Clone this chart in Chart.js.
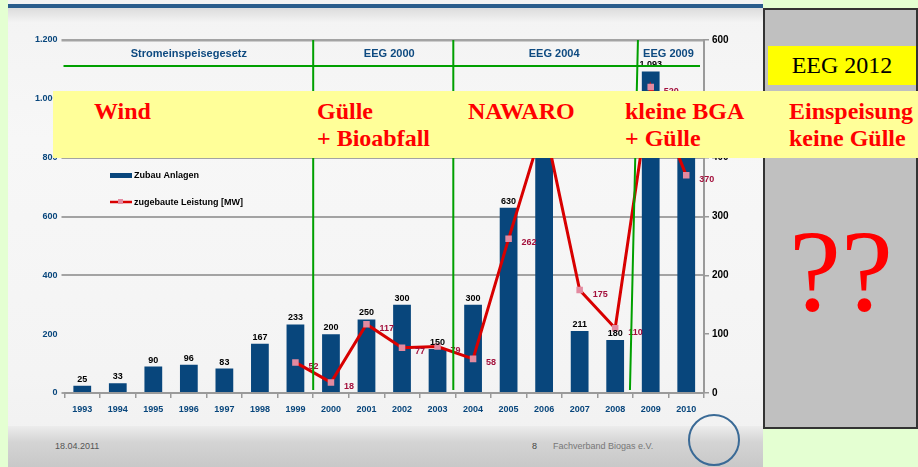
<!DOCTYPE html>
<html><head><meta charset="utf-8">
<script src="https://cdn.jsdelivr.net/npm/chart.js@4"></script>
<style>
html,body{margin:0;padding:0;width:918px;height:467px;overflow:hidden;background:#e4ffd2;font-family:"Liberation Sans",Arial,sans-serif;}
#slide{position:absolute;left:8px;top:0;width:755px;height:467px;background:linear-gradient(#f3f3f3,#f7f7f7 30%,#f4f4f4 80%,#f0f0f0);}
#topbar{position:absolute;left:8px;top:4px;width:755px;height:4px;background:#2a5d8c;}
#topgrey{position:absolute;left:8px;top:8px;width:755px;height:14px;background:linear-gradient(#dcdcdc,#f3f3f3);}
#footer{position:absolute;left:8px;top:426px;width:755px;height:41px;background:linear-gradient(#ececec,#d4d4d4 40%,#c8c8c8);}
#wrap{position:absolute;left:0;top:0;width:918px;height:467px;}
canvas{position:absolute;left:0;top:0;}
.ft{position:absolute;font-size:9px;color:#555;}
#logo{position:absolute;left:688px;top:414px;width:48px;height:48px;border:2px solid #3a6a96;border-radius:50%;}
#greybox{position:absolute;left:763px;top:8px;width:151px;height:417px;background:#c0c0c0;border:2px solid #333;}
#eeg{position:absolute;left:768px;top:46px;width:148px;height:39px;background:#ffff00;font-family:"Liberation Serif","Times New Roman",serif;font-size:24px;line-height:39px;text-align:center;color:#000;}
#band{position:absolute;left:53px;top:91px;width:865px;height:67px;background:#ffff99;}
.rt{position:absolute;font-family:"Liberation Serif","Times New Roman",serif;font-weight:bold;font-size:24px;line-height:27px;color:#ff0000;white-space:nowrap;}
#qq{position:absolute;left:789px;top:212px;font-family:"Liberation Serif","Times New Roman",serif;font-size:117px;line-height:117px;color:#ff0000;}
</style></head>
<body>
<div id="slide"></div>
<div id="topgrey"></div>
<div id="topbar"></div>
<div id="footer"></div>
<div class="ft" style="left:55px;top:441px;">18.04.2011</div>
<div class="ft" style="left:532px;top:441px;color:#444;">8</div>
<div class="ft" style="left:553px;top:441px;color:#777;">Fachverband Biogas e.V.</div>
<div id="logo"></div>
<div id="wrap"><canvas id="c" width="918" height="467"></canvas></div>
<div id="greybox"></div>
<div id="eeg">EEG 2012</div>
<div id="band"></div>
<div class="rt" style="left:94px;top:98px;">Wind</div>
<div class="rt" style="left:317px;top:98px;">Gülle<br>+ Bioabfall</div>
<div class="rt" style="left:468px;top:98px;">NAWARO</div>
<div class="rt" style="left:625px;top:98px;">kleine BGA<br>+ Gülle</div>
<div class="rt" style="left:789px;top:98px;">Einspeisung<br>keine Gülle</div>
<div id="qq">??</div>
<script>
const years = ['1993','1994','1995','1996','1997','1998','1999','2000','2001','2002','2003','2004','2005','2006','2007','2008','2009','2010'];
const plantsAdded = [25, 33, 90, 96, 83, 167, 233, 200, 250, 300, 150, 300, 630, 800, 211, 180, 1093, 900];
const capacityAdded = [null, null, null, null, null, null, 52, 18, 117, 77, 79, 58, 262, 460, 175, 110, 520, 370];
const leftTicks = [0, 200, 400, 600, 800, 1000, 1200];
const rightTicks = [0, 100, 200, 300, 400, 500, 600];
const periodStarts = ['2000', '2004', '2009'];
const periodTitles = ['Stromeinspeisegesetz', 'EEG 2000', 'EEG 2004', 'EEG 2009'];
const legendNames = ['Zubau Anlagen', 'zugebaute Leistung [MW]'];

const BLUE = '#08467c';
const RED = '#d80000';

function fmtDE(v){ return String(v).replace(/\B(?=(\d{3})+(?!\d))/g, '.'); }

const overlay = {
  id: 'overlay',
  afterDatasetsDraw(chart){
    const ctx = chart.ctx;
    const xs = chart.scales.x;
    const ca = chart.chartArea;
    const barMeta = chart.getDatasetMeta(1);
    ctx.save();
    ctx.font = 'bold 9px "Liberation Sans", Arial, sans-serif';
    ctx.fillStyle = '#000';
    ctx.textAlign = 'center';
    ctx.textBaseline = 'bottom';
    barMeta.data.forEach((el, i) => {
      ctx.fillText(fmtDE(plantsAdded[i]), el.x, el.y - 2);
    });
    const lineMeta = chart.getDatasetMeta(0);
    ctx.fillStyle = '#a3103c';
    ctx.textAlign = 'left';
    ctx.textBaseline = 'middle';
    lineMeta.data.forEach((el, i) => {
      if (capacityAdded[i] == null) return;
      ctx.fillText(String(capacityAdded[i]), el.x + 13, el.y + 4);
    });
    const bx = periodStarts.map(y => {
      const i = years.indexOf(y);
      return (xs.getPixelForValue(i - 1) + xs.getPixelForValue(i)) / 2;
    });
    ctx.strokeStyle = '#00a000';
    ctx.lineWidth = 2;
    ctx.beginPath();
    ctx.moveTo(bx[0], ca.top); ctx.lineTo(bx[0], ca.bottom - 3);
    ctx.moveTo(bx[1] - 2, ca.top); ctx.lineTo(bx[1] - 2, ca.bottom - 3);
    ctx.moveTo(bx[2] + 5, ca.top); ctx.lineTo(bx[2] - 3, ca.bottom - 3);
    ctx.moveTo(ca.left - 1, ca.top + 26); ctx.lineTo(ca.right - 4, ca.top + 26);
    ctx.stroke();
    ctx.font = 'bold 11px "Liberation Sans", Arial, sans-serif';
    ctx.fillStyle = '#0e4a80';
    ctx.textAlign = 'center';
    ctx.textBaseline = 'middle';
    const centers = [ (ca.left + bx[0]) / 2, (bx[0] + bx[1]) / 2 + 5, (bx[1] + bx[2]) / 2 + 10, (bx[2] + ca.right) / 2 ];
    periodTitles.forEach((t, i) => ctx.fillText(t, centers[i], ca.top + 14));
    ctx.fillStyle = BLUE;
    ctx.fillRect(110, 173, 22, 5);
    ctx.strokeStyle = RED; ctx.lineWidth = 2.5;
    ctx.beginPath(); ctx.moveTo(110, 202); ctx.lineTo(132, 202); ctx.stroke();
    ctx.fillStyle = '#e38aa0'; ctx.fillRect(118, 199, 5, 5);
    ctx.font = 'bold 9px "Liberation Sans", Arial, sans-serif';
    ctx.fillStyle = '#000';
    ctx.textAlign = 'left';
    ctx.fillText(legendNames[0], 134, 176);
    ctx.fillText(legendNames[1], 134, 203);
    ctx.restore();
  }
};

new Chart(document.getElementById('c'), {
  type: 'bar',
  data: {
    labels: years,
    datasets: [
      { type: 'line', label: legendNames[1], data: capacityAdded, yAxisID: 'y1', order: 0,
        borderColor: RED, borderWidth: 3, pointStyle: 'rect', pointRadius: 2.5,
        pointBackgroundColor: '#e38aa0', pointBorderColor: '#e38aa0', tension: 0, fill: false },
      { type: 'bar', label: legendNames[0], data: plantsAdded, yAxisID: 'y', order: 1,
        backgroundColor: BLUE, barPercentage: 0.5, categoryPercentage: 1.0 }
    ]
  },
  options: {
    responsive: false, animation: false,
    layout: { padding: { top: 40, bottom: 44, left: 0, right: 0 } },
    plugins: { legend: { display: false }, tooltip: { enabled: false } },
    scales: {
      x: {
        grid: { offset: true, drawOnChartArea: false, color: '#999', tickLength: 5, lineWidth: 1.5 },
        border: { color: '#9a9a9a', width: 2 },
        ticks: { color: BLUE, font: { weight: 'bold', size: 9, family: '"Liberation Sans", Arial' }, padding: 6, maxRotation: 0, autoSkip: false },
        afterFit(s){ s.height = 30; }
      },
      y: {
        position: 'left', min: 0, max: 1200,
        afterBuildTicks(s){ s.ticks = leftTicks.map(v => ({ value: v })); },
        ticks: { color: BLUE, font: { weight: 'bold', size: 9, family: '"Liberation Sans", Arial' }, padding: 4, callback: v => fmtDE(v) },
        grid: { color: c => (c.tick && c.tick.value === 200) ? 'rgba(0,0,0,0)' : '#a3a3a3', lineWidth: c => (c.tick && c.tick.value === 1200) ? 2.5 : 2, tickLength: 3 },
        border: { display: false },
        afterFit(s){ s.width = 64.5; }
      },
      y1: {
        position: 'right', min: 0, max: 600,
        afterBuildTicks(s){ s.ticks = rightTicks.map(v => ({ value: v })); },
        ticks: { color: '#000', font: { weight: 'bold', size: 10, family: '"Liberation Sans", Arial' }, padding: 3 },
        grid: { drawOnChartArea: false, color: '#999', tickLength: 5, lineWidth: 1.5 },
        border: { display: true, color: '#9a9a9a', width: 2 },
        afterFit(s){ s.width = 214; }
      }
    }
  },
  plugins: [overlay]
});
</script>
</body></html>
